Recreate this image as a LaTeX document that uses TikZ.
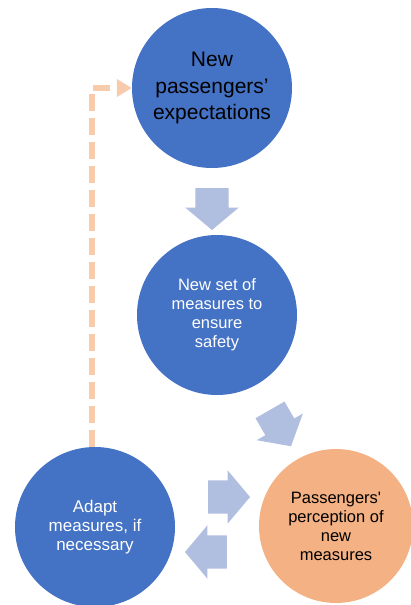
\documentclass[tikz,border=0pt]{standalone}
\usepackage{fontspec}
\setmainfont{Liberation Sans}
\usetikzlibrary{shapes.arrows,arrows.meta}

\definecolor{stepblue}{HTML}{4472C4}
\definecolor{steporange}{HTML}{F4B183}
\definecolor{flowarrow}{HTML}{B0BFE0}
\definecolor{loopline}{HTML}{F8CBAD}

\tikzset{
  stage/.style={circle, fill=stepblue, minimum size=160pt, inner sep=0pt, align=center,
    font=\fontsize{16.5}{19}\selectfont, text=white},
  flow/.style={single arrow, fill=flowarrow, minimum height=42pt,
    single arrow head extend=10pt, single arrow tip angle=100, inner xsep=0pt, inner ysep=16.5pt}
}

\begin{document}
\begin{tikzpicture}[x=1pt,y=-1pt]
            \useasboundingbox (0,0) rectangle (411,605);
            % stages
            \node[stage, text=black, font=\fontsize{21}{26.5}\selectfont] (expect) at (212,88) {New\\passengers’\\expectations};
            \node[stage] (measures) at (217,315) {New set of\\measures to\\ensure\\safety};
            \node[stage, fill=steporange, minimum size=154pt, text=black] (percept) at (336,526) {Passengers\textquotesingle\\perception of\\new\\measures};
            \node[stage, font=\fontsize{17}{19}\selectfont] (adapt) at (95,527) {Adapt\\measures, if\\necessary};
            % block arrows
            \node[flow, rotate=-90] (down) at (212,202) {};
            \node[flow, rotate=-60] (diag) at (277,422) {};
            \node[flow] (right) at (222,497) {};
            \node[flow, rotate=180] (left) at (213,552) {};
            % feedback loop
            \draw[loopline, line width=5.5pt, dash pattern=on 17pt off 7pt, -{Triangle[length=15pt,width=17pt]}]
                ([xshift=-3pt]adapt.north) |- (expect.west);
        \end{tikzpicture}
\end{document}
